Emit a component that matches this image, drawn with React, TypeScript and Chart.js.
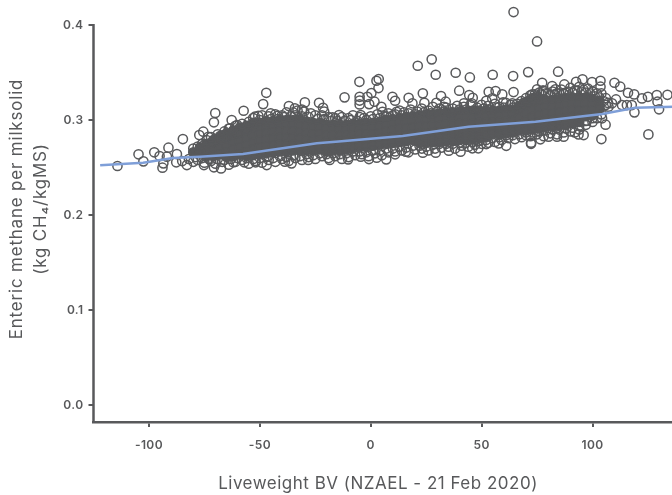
import React, { useEffect, useRef } from "react";
import { Chart, registerables } from "chart.js";

Chart.register(...registerables);

const GRAY = "#58595b";
const BLUE = "#7f9fd8";
const FONT = "Inter";

const xTitle = "Liveweight BV (NZAEL - 21 Feb 2020)";
const yTitleLines = ["Enteric methane per milksolid", "(kg CH₄/kgMS)"];

// Mean trend line
const trendX = [-122, -102.6, -89.1, -77, -57.6, -32, -24.3, -15.8, 14.4, 44.1, 74.3, 104.4, 119.3, 136.5];
const trendY = [0.2523, 0.2551, 0.26, 0.2614, 0.2642, 0.2729, 0.2755, 0.2772, 0.2832, 0.293, 0.2982, 0.3063, 0.3129, 0.314];

// Individually readable animals outside the dense band [x, y]
const outliers: number[][] = [
  [-114.2,.2516],[-104.7,.2639],[-102.5,.2565],[-97.6,.266],[-93.9,.2498],[-95.2,.2621],[-93.5,.2544],[-91.2,.2709],[-91.9,.2614],[-87.7,.2555],[-87.4,.2642],[-84.7,.28],[-85,.2568],[-82.9,.2526],[-77.3,.2842],[-75.5,.2877],[-73.2,.2824],[-70.1,.3074],[-70.7,.2976],[-70.7,.2502],[-67.5,.2491],[-75.2,.2526],[-62.7,.3],[-63.5,.2913],[-60.2,.2947],[-57.3,.3098],[-62,.2555],[-57,.2555],[-51.9,.2555],[-46.9,.2526],[-48.5,.3168],[-47.1,.3287],[-52.2,.3035],[-50.7,.3045],[-45.1,.307],[-42,.3045],[-38.7,.2561],[-35.7,.2544],[-36.9,.3147],[-34.2,.3123],[-29.7,.3186],[-31,.311],[-23.3,.3182],[-21.5,.3129],[-21,.309],[-17.2,.3028],[-14.3,.3053],[-28.2,.2579],[-18.5,.2579],
  [64.4,.4137],[75,.3828],[27.5,.3639],[21.2,.3572],[29.3,.3477],[38.3,.3498],[44.7,.3449],[55,.3477],[64.2,.3463],[71,.3505],[84.5,.3509],[-5.1,.3403],[2.6,.3414],[3.6,.3432],[3.5,.3337],[-11.8,.3239],[-5,.3245],[-5,.3205],[-5,.3165],[-1.5,.3245],[-.7,.3168],[.3,.3284],[1.7,.3193],[4.8,.314],[5.3,.3087],[-4.5,.3053],[9.8,.3245],[11,.3203],[11.7,.3087],[17.1,.3235],[18.8,.3176],[23.5,.3281],[24.2,.3182],[29.6,.3182],[31.7,.3253],[33.8,.3193],[33,.314],[39.9,.3309],[44.4,.3263],[46,.3235],[42,.3176],[45.5,.3176],[52.1,.3203],[53.2,.3298],[56.3,.3305],[54.8,.3228],[59.3,.327],[59.7,.3186],[64.4,.3295],[63.8,.3176],[72.8,.327],[75,.3323],[77.3,.3393],[77.5,.3309],[81.8,.3358],[83.3,.3323],[87.3,.3375],[92.6,.3403],[95.5,.3428],[99.8,.34],[103.6,.3414],[103.6,.3351],[109.9,.3393],[112.5,.3351],[116,.3287],[118.8,.327],[122.3,.3228],[125,.3245],[129,.3263],[129.3,.3193],[130,.3113],[133.8,.3266],[118.9,.3081],[113.3,.3158],[115.5,.3158],[117.7,.3158],[125.2,.2849],[104,.28],[105.9,.2951],[96,.2842],[93.7,.2849],[104.3,.3018],[97.5,.2993],[107.2,.314],[110.6,.3217],[108.8,.3176],
  [61.1,.2729],[72.3,.2761],[72.3,.275],[76.5,.2797],[80.2,.2824],[84,.2824],[87,.2824],[57.7,.2754],[52.1,.2747],[48.5,.2702],[45.8,.2702],[40.5,.2666],[35.2,.2677],[29.3,.2656],[23.5,.2656],[15.8,.2666],[11,.2639],[7,.2586],[2.7,.2603],[-.8,.2589],[-4.5,.2614],[-10.2,.2586],
];

// Rings along the upper edge of the dense band [x, y]
const upperEdge: number[][] = [
  [-78,.272],[-76,.275],[-74,.279],[-72,.282],[-69,.285],[-66,.288],[-67,.28],[-64,.291],[-61,.294],[-58,.296],[-55,.298],[-53,.302],[-49,.305],[-46,.304],[-43,.306],[-40,.305],[-38,.308],[-35,.308],[-33,.31],[-30,.309],[-27,.307],[-25,.305],[-22,.305],[-19,.303],[-16,.302],[-13,.303],[-10,.302],[-8,.305],[-5,.303],[-3,.302],[0,.304],[3,.306],[6,.304],[8,.307],[10,.305],[13,.31],[15,.308],[18,.311],[21,.309],[23,.312],[26,.31],[28,.314],[31,.312],[34,.313],[37,.312],[39,.315],[42,.314],[45,.316],[48,.313],[50,.316],[53,.315],[56,.317],[58,.314],[61,.318],[63,.316],[66,.317],[68,.32],[70,.323],[72,.326],[74,.327],[76,.329],[78,.331],[80,.328],[82,.33],[84,.328],[86,.332],[88,.329],[90,.334],[92,.331],[94,.335],[96,.332],[98,.333],[100,.33],[102,.328],[104,.328],[106,.323],[107,.318],
];

// Second row of rings just inside the upper edge [x, y]
const upperInner: number[][] = [
  [-80,.27],[-77,.268],[-75,.274],[-72,.276],[-70,.28],[-67,.284],[-65,.281],[-62,.288],[-60,.286],[-57,.291],[-55,.294],[-52,.297],[-50,.3],[-47,.299],[-45,.301],[-42,.301],[-39,.303],[-36,.304],[-34,.305],[-31,.304],[-28,.303],[-24,.301],[-21,.301],[-18,.299],[-15,.299],[-12,.299],[-9,.3],[-6,.299],[-2,.3],[1,.301],[4,.302],[7,.304],[11,.306],[14,.305],[17,.307],[20,.306],[24,.308],[27,.307],[30,.309],[33,.309],[36,.308],[40,.311],[43,.311],[47,.31],[51,.312],[54,.311],[57,.313],[60,.313],[64,.313],[67,.315],[69,.318],[71,.32],[73,.323],[75,.325],[77,.327],[79,.328],[81,.326],[83,.327],[85,.328],[87,.328],[89,.33],[91,.329],[93,.331],[95,.33],[97,.329],[99,.328],[101,.325],[103,.324],[105,.32],[106,.316],
];

// Rings along the lower edge of the dense band [x, y]
const lowerEdge: number[][] = [
  [-82,.259],[-80,.256],[-78,.258],[-75,.255],[-72,.257],[-70,.254],[-67,.256],[-64,.253],[-61,.256],[-58,.258],[-55,.254],[-52,.257],[-49,.255],[-46,.258],[-43,.256],[-40,.259],[-37,.257],[-34,.26],[-31,.258],[-28,.261],[-25,.259],[-22,.262],[-19,.26],[-16,.262],[-13,.259],[-10,.261],[-7,.263],[-4,.264],[-1,.262],[2,.265],[5,.263],[8,.266],[11,.267],[14,.268],[17,.266],[20,.269],[23,.27],[26,.268],[29,.27],[32,.271],[35,.272],[38,.27],[41,.273],[44,.272],[47,.274],[50,.275],[53,.276],[56,.277],[59,.279],[62,.281],[65,.28],[68,.282],[70,.284],[72,.283],[75,.285],[78,.283],[81,.286],[84,.285],[87,.287],[90,.288],[92,.287],[94,.29],[97,.295],[100,.298],[102,.302],[104,.306],
];

// Second row of rings just inside the lower edge [x, y]
const lowerInner: number[][] = [
  [-79,.261],[-76,.26],[-73,.259],[-69,.259],[-66,.258],[-63,.259],[-60,.26],[-56,.26],[-53,.259],[-50,.26],[-47,.261],[-44,.26],[-41,.262],[-38,.261],[-35,.263],[-32,.262],[-29,.264],[-26,.263],[-23,.265],[-20,.264],[-17,.265],[-14,.264],[-11,.265],[-8,.267],[-5,.267],[-2,.266],[1,.268],[4,.268],[7,.27],[10,.27],[13,.272],[16,.271],[19,.273],[22,.273],[25,.272],[28,.274],[31,.275],[34,.275],[37,.275],[40,.276],[43,.276],[46,.277],[49,.278],[52,.279],[55,.281],[58,.282],[61,.284],[64,.284],[67,.285],[70,.287],[73,.287],[76,.288],[79,.289],[82,.29],[85,.29],[88,.291],[91,.292],[94,.294],[97,.299],[100,.302],
];

// Overplotted core of the band, as columns [x, y, y, ...]
const coreColumns: number[][] = [
  [-80,.266],[-77,.271,.265],[-74,.275,.268,.262],[-71,.279,.274,.268,.262],[-68,.283,.277,.27,.264],[-65,.286,.28,.273,.266,.261],[-62,.289,.283,.276,.269,.262],[-59,.292,.285,.278,.271,.264],[-56,.294,.287,.28,.273,.266,.262],[-53,.297,.29,.283,.276,.269,.263],[-50,.297,.292,.285,.278,.271,.264],[-47,.298,.293,.286,.279,.272,.265],[-44,.299,.294,.287,.28,.273,.266],[-41,.3,.295,.288,.281,.274,.267],[-38,.3,.295,.288,.281,.274,.267],[-35,.3,.295,.288,.281,.274,.268],[-32,.3,.294,.287,.28,.273,.268],[-29,.298,.293,.286,.279,.272,.268],[-26,.297,.292,.285,.278,.271,.268],[-23,.297,.292,.285,.278,.272,.269],[-20,.295,.291,.284,.277,.271,.267],[-17,.295,.29,.284,.277,.271,.268],[-14,.295,.29,.283,.277,.271,.268],[-11,.295,.29,.284,.278,.272,.269],[-8,.296,.291,.284,.278,.272,.27],[-5,.296,.291,.285,.278,.272],[-2,.297,.292,.285,.278,.272],[1,.297,.292,.285,.279,.273],[4,.298,.293,.286,.28,.274],[7,.3,.295,.288,.281,.275],[10,.301,.296,.289,.282,.276],[13,.302,.298,.291,.284,.277],[16,.303,.298,.291,.284,.278],[19,.304,.299,.292,.285,.279],[22,.305,.3,.293,.286,.28,.276],[25,.306,.3,.293,.286,.28,.276],[28,.306,.301,.294,.287,.28,.277],[31,.307,.301,.294,.287,.281,.277],[34,.308,.302,.295,.288,.281,.278],[37,.308,.302,.295,.288,.282,.278],[40,.309,.303,.296,.289,.282,.279],[43,.309,.303,.296,.289,.282,.279],[46,.31,.303,.296,.289,.283,.28],[49,.31,.304,.297,.29,.283,.281],[52,.31,.304,.297,.29,.284,.282],[55,.31,.304,.297,.29,.285],[58,.31,.305,.298,.291,.285],[61,.311,.305,.298,.292,.286],[64,.311,.306,.299,.293,.287],[67,.314,.309,.302,.295,.289],[70,.319,.313,.306,.299,.292,.289],[73,.322,.317,.31,.303,.296,.29],[76,.322,.319,.312,.305,.298,.291],[79,.321,.314,.307,.3,.293],[82,.321,.314,.307,.3,.293],[85,.322,.315,.308,.301,.294],[88,.323,.316,.309,.302,.295],[91,.324,.317,.31,.303,.297],[94,.324,.317,.31,.303,.298],[97,.324,.317,.31,.304],[100,.322,.316,.31,.305],[103,.32,.315,.311],
];

const yAxisTop = 0.4;
const toPoints = (rows: number[][]) => rows.map(([x, y]) => ({ x, y }));
const corePoints = coreColumns.flatMap(([x, ...ys]) => ys.map((y) => ({ x, y })));
const trendPoints = trendX.map((x, i) => ({ x, y: trendY[i] }));

const axisDecor = {
  id: "axisDecor",
  beforeDraw(chart: any) {
    chart.ctx.letterSpacing = "0.4px";
  },
  afterDraw(chart: any) {
    const { ctx, scales } = chart;
    ctx.save();
    ctx.strokeStyle = GRAY;
    ctx.lineWidth = 2.5;
    ctx.beginPath();
    ctx.moveTo(scales.x.left, scales.y.getPixelForValue(yAxisTop) - 1);
    ctx.lineTo(scales.x.left, scales.y.bottom + 1);
    ctx.stroke();
    ctx.fillStyle = GRAY;
    ctx.textAlign = "center";
    ctx.textBaseline = "middle";
    ctx.font = `400 17px ${FONT}`;
    ctx.letterSpacing = "0.5px";
    ctx.fillText(xTitle, 378, 484);
    ctx.translate(17, 209);
    ctx.rotate(-Math.PI / 2);
    ctx.letterSpacing = "0.8px";
    ctx.fillText(yTitleLines[0], 0, 0);
    ctx.fillText(yTitleLines[1], 0, 24);
    ctx.restore();
  },
};

export default function App() {
  const ref = useRef<HTMLCanvasElement>(null);
  useEffect(() => {
    const ring = {
      type: "scatter" as const,
      pointRadius: 4.6,
      pointBorderWidth: 1.5,
      pointBackgroundColor: "rgba(0,0,0,0)",
      pointBorderColor: GRAY,
      clip: false as const,
    };
    const chart = new Chart(ref.current!, {
      type: "scatter",
      data: {
        datasets: [
          { ...ring, label: "core", data: corePoints, pointBackgroundColor: GRAY, order: 3 },
          { ...ring, label: "upper", data: toPoints(upperEdge), order: 2 },
          { ...ring, label: "upper inner", data: toPoints(upperInner), order: 2 },
          { ...ring, label: "lower", data: toPoints(lowerEdge), order: 2 },
          { ...ring, label: "lower inner", data: toPoints(lowerInner), order: 2 },
          { ...ring, label: "animals", data: toPoints(outliers), order: 2 },
          {
            type: "scatter",
            label: "mean",
            data: trendPoints,
            showLine: true,
            borderColor: BLUE,
            borderWidth: 2.5,
            pointRadius: 0,
            clip: false,
            order: 1,
          },
        ],
      },
      options: {
        responsive: false,
        animation: false,
        events: [],
        layout: { padding: { top: 6, right: 0, left: 0, bottom: 0 } },
        plugins: { legend: { display: false }, tooltip: { enabled: false } },
        scales: {
          x: {
            type: "linear",
            min: -125,
            max: 136.7,
            afterFit(s: any) { s.height = 73; },
            border: { color: GRAY, width: 2.5 },
            grid: { drawOnChartArea: false, color: GRAY, lineWidth: 2, tickLength: 5 },
            ticks: {
              stepSize: 50,
              includeBounds: false,
              maxRotation: 0,
              color: GRAY,
              padding: 11,
              font: { family: FONT, size: 12, weight: 600 },
            },
          },
          y: {
            type: "linear",
            min: -0.018,
            max: 0.42,
            afterFit(s: any) { s.width = 93.5; s.paddingTop = 0; },
            border: { display: false },
            grid: { drawOnChartArea: false, color: GRAY, lineWidth: 2, tickLength: 5 },
            ticks: {
              stepSize: 0.1,
              includeBounds: false,
              color: GRAY,
              padding: 5,
              font: { family: FONT, size: 12, weight: 600 },
              callback: (v: any) => Number(v).toFixed(1),
            },
          },
        },
      },
      plugins: [axisDecor],
    });
    return () => chart.destroy();
  }, []);
  return (
    <div style={{ position: "absolute", left: 0, top: 0, width: 672, height: 495, overflow: "hidden" }}>
      <canvas ref={ref} width={680} height={495} style={{ display: "block" }} />
    </div>
  );
}
